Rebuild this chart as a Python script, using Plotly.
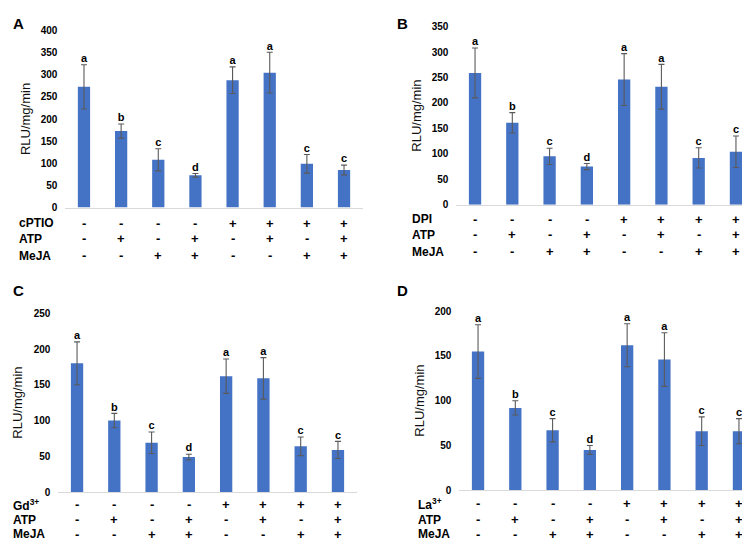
import plotly.graph_objects as go
from plotly.subplots import make_subplots

W, H = 750, 541

CATS = ["T1", "T2", "T3", "T4", "T5", "T6", "T7", "T8"]
LETTERS = ["a", "b", "c", "d", "a", "a", "c", "c"]

INHIB_ROW = ["-", "-", "-", "-", "+", "+", "+", "+"]
ATP_ROW = ["-", "+", "-", "+", "-", "+", "-", "+"]
MEJA_ROW = ["-", "-", "+", "+", "-", "-", "+", "+"]

A_MEAN = [273, 173, 108, 73, 288, 305, 99, 85]
A_SD = [50, 16, 25, 4, 30, 46, 21, 11]
B_MEAN = [259, 161, 95, 75, 246, 232, 92, 104]
B_SD = [49, 20, 16, 6, 51, 44, 20, 31]
C_MEAN = [180, 100, 69, 49, 162, 159, 64, 59]
C_SD = [30, 10, 15, 4, 24, 29, 13, 12]
D_MEAN = [155, 92, 67, 45, 162, 146, 66, 66]
D_SD = [30, 8, 13, 5, 24, 30, 16, 14]

PANELS = [
    dict(tag="A", inhib="cPTIO", mean=A_MEAN, sd=A_SD, ymax=400,
         xpx=(57.4, 354.6), ypx=(17, 198), rows=(214, 230, 247), lab_x=9, tit_x=17, tag_xy=(3, 10)),
    dict(tag="B", inhib="DPI", mean=B_MEAN, sd=B_SD, ymax=350,
         xpx=(448.4, 746.6), ypx=(13, 195), rows=(210, 226, 243), lab_x=402, tit_x=409, tag_xy=(387, 10)),
    dict(tag="C", inhib="Gd<sup>3+</sup>", mean=C_MEAN, sd=C_SD, ymax=250,
         xpx=(50.4, 348.6), ypx=(306, 489), rows=(502, 517, 532), lab_x=3, tit_x=10, tag_xy=(3, 283)),
    dict(tag="D", inhib="La<sup>3+</sup>", mean=D_MEAN, sd=D_SD, ymax=200,
         xpx=(451.4, 749.6), ypx=(304, 487), rows=(501, 517, 532), lab_x=408, tit_x=412, tag_xy=(387, 283)),
]

BAR = "#4472C4"
ERR = "#5a5a5a"
FONT = "Liberation Sans, Arial, sans-serif"


def px_x(v):
    return v / W


def px_y(v):
    return 1 - v / H


fig = make_subplots(rows=2, cols=2)
annotations = []

for i, p in enumerate(PANELS):
    r, c = i // 2 + 1, i % 2 + 1
    ax = "" if i == 0 else str(i + 1)

    fig.add_trace(go.Bar(
        x=CATS, y=p["mean"], marker_color=BAR, marker_line_width=0,
        error_y=dict(type="data", array=p["sd"], color=ERR, thickness=1.1, width=3),
        showlegend=False,
    ), row=r, col=c)

    # significance letters sit just above each error bar
    fig.add_trace(go.Scatter(
        x=CATS, y=[m + s for m, s in zip(p["mean"], p["sd"])],
        mode="text", text=LETTERS, textposition="top center",
        textfont=dict(family=FONT, size=11, color="#000", weight="bold"),
        cliponaxis=False, showlegend=False, hoverinfo="skip",
    ), row=r, col=c)

    fig.update_xaxes(
        domain=[px_x(p["xpx"][0]), px_x(p["xpx"][1])],
        showticklabels=False, showgrid=False, zeroline=False,
        showline=True, linecolor="#d9d9d9", linewidth=1, ticks="",
        row=r, col=c,
    )
    fig.update_yaxes(
        domain=[px_y(p["ypx"][1]), px_y(p["ypx"][0])],
        range=[0, p["ymax"]], dtick=50, showgrid=False, zeroline=False,
        showline=False, ticks="", ticklabelstandoff=7,
        tickfont=dict(family=FONT, size=10, color="#000", weight="bold"),
        row=r, col=c,
    )

    # treatment table under each panel
    row_names = [p["inhib"], "ATP", "MeJA"]
    row_vals = [INHIB_ROW, ATP_ROW, MEJA_ROW]
    for name, vals, ypx in zip(row_names, row_vals, p["rows"]):
        annotations.append(dict(
            xref="paper", yref="paper", x=px_x(p["lab_x"]), y=px_y(ypx),
            xanchor="left", yanchor="middle", text=name, showarrow=False,
            font=dict(family=FONT, size=12, color="#000", weight="bold"),
        ))
        for cat, v in zip(CATS, vals):
            annotations.append(dict(
                xref="x" + ax, yref="paper", x=cat, y=px_y(ypx),
                xanchor="center", yanchor="middle", text=v, showarrow=False,
                font=dict(family=FONT, size=13, color="#000", weight="bold"),
            ))

    mid = (p["ypx"][0] + p["ypx"][1]) / 2
    annotations.append(dict(
        xref="paper", yref="paper", x=px_x(p["tit_x"]), y=px_y(mid),
        xanchor="center", yanchor="middle", textangle=-90,
        text="RLU/mg/min", showarrow=False,
        font=dict(family=FONT, size=13, color="#111"),
    ))

    annotations.append(dict(
        xref="paper", yref="paper", x=px_x(p["tag_xy"][0]), y=px_y(p["tag_xy"][1]),
        xanchor="left", yanchor="middle", text="<b>%s</b>" % p["tag"],
        showarrow=False, font=dict(family=FONT, size=15, color="#000"),
    ))

fig.update_layout(
    width=W, height=H,
    margin=dict(l=0, r=0, t=0, b=0),
    paper_bgcolor="white", plot_bgcolor="white",
    bargap=0.67,
    annotations=annotations,
)

fig.write_html("out.html")
